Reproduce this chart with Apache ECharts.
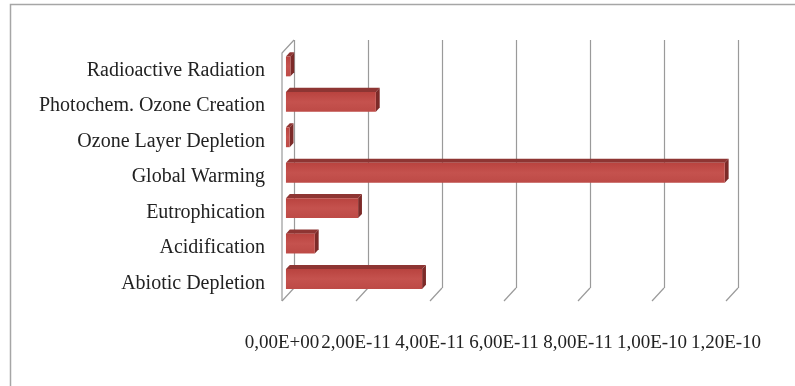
<!DOCTYPE html>
<html>
<head>
<meta charset="utf-8">
<script src="https://cdn.jsdelivr.net/npm/echarts@6/dist/echarts.min.js"></script>
<style>
  html, body { margin: 0; padding: 0; background: #fff; }
  #chart { width: 795px; height: 386px; }
</style>
</head>
<body>
<div id="chart"></div>
<script>
// Impact categories, bottom to top as they appear on the axis
const categories = [
  'Abiotic Depletion',
  'Acidification',
  'Eutrophication',
  'Global Warming',
  'Ozone Layer Depletion',
  'Photochem. Ozone Creation',
  'Radioactive Radiation'
];
const impactValues = [3.68e-11, 0.78e-11, 1.95e-11, 1.186e-10, 1.0e-12, 2.43e-11, 1.2e-12];

const xTickValues = [0, 2e-11, 4e-11, 6e-11, 8e-11, 1e-10, 1.2e-10];
const xTickLabels = ['0,00E+00', '2,00E-11', '4,00E-11', '6,00E-11', '8,00E-11', '1,00E-10', '1,20E-10'];

// pseudo-3D depth: shift from back wall to front edge of the floor
const DEPTH_X = -12, DEPTH_Y = 13;
const BAR_FRONT = 0.67, BAR_BACK = 0.35;
const GRID_GRAY = '#9a9a9a';
const FONT = '"Liberation Serif", "Times New Roman", serif';

const chart = echarts.init(document.getElementById('chart'), null, { renderer: 'canvas' });

function renderBar(params, api) {
  const v = api.value(0);
  const c = api.value(1);
  const p0 = api.coord([0, c]);
  const p1 = api.coord([v, c]);
  const h = api.size([0, 1])[1] * 0.56;
  const fx = BAR_FRONT * DEPTH_X, fy = BAR_FRONT * DEPTH_Y;
  const bx = BAR_BACK * DEPTH_X, by = BAR_BACK * DEPTH_Y;
  const x0 = p0[0] + fx, x1 = p1[0] + fx;
  const yT = p0[1] - h / 2 + fy, yB = p0[1] + h / 2 + fy;
  const dx = bx - fx, dy = by - fy;
  return {
    type: 'group',
    children: [
      {
        type: 'polygon',
        shape: { points: [[x0, yT], [x1, yT], [x1 + dx, yT + dy], [x0 + dx, yT + dy]] },
        style: { fill: '#8e3533' }
      },
      {
        type: 'polygon',
        shape: { points: [[x1, yT], [x1 + dx, yT + dy], [x1 + dx, yB + dy], [x1, yB]] },
        style: { fill: '#7c2a28' }
      },
      {
        type: 'rect',
        shape: { x: x0, y: yT, width: Math.max(x1 - x0, 0.5), height: yB - yT },
        style: {
          fill: new echarts.graphic.LinearGradient(0, 0, 0, 1, [
            { offset: 0, color: '#b9433f' },
            { offset: 0.5, color: '#c5524e' },
            { offset: 1, color: '#bd4a46' }
          ])
        }
      }
    ]
  };
}

function renderFloor(params, api) {
  const v = api.value(0);
  const cs = params.coordSys;
  const x = api.coord([v, categories[0]])[0];
  const yBot = cs.y + cs.height;
  const children = [{
    type: 'line',
    shape: { x1: x, y1: yBot, x2: x + DEPTH_X, y2: yBot + DEPTH_Y },
    style: { stroke: GRID_GRAY, lineWidth: 1.2 }
  }];
  if (v === 0) {
    // side wall at the value origin
    children.push({
      type: 'polyline',
      shape: { points: [[x, cs.y], [x + DEPTH_X, cs.y + DEPTH_Y], [x + DEPTH_X, yBot + DEPTH_Y]] },
      style: { stroke: GRID_GRAY, lineWidth: 1.2, fill: null }
    });
  }
  return { type: 'group', children: children };
}

const option = {
  animation: false,
  backgroundColor: '#fff',
  graphic: [{
    type: 'rect',
    shape: { x: 10.5, y: 4.5, width: 800, height: 400 },
    style: { fill: null, stroke: '#a6a6a6', lineWidth: 1.5 },
    silent: true
  }],
  grid: [
    // back wall
    { left: 294, right: 57, top: 40, bottom: 98 },
    // front edge of the floor
    { left: 282, right: 69, top: 53, bottom: 85 }
  ],
  xAxis: [
    {
      gridIndex: 0, type: 'value', min: 0, max: 1.2e-10, interval: 2e-11,
      axisLine: { show: false }, axisTick: { show: false }, axisLabel: { show: false },
      splitLine: { show: true, lineStyle: { color: GRID_GRAY, width: 1.2 } }
    },
    {
      gridIndex: 1, type: 'value', min: 0, max: 1.2e-10, interval: 2e-11,
      axisLine: { show: false }, axisTick: { show: false }, splitLine: { show: false },
      axisLabel: {
        show: true, margin: 33, color: '#222',
        fontFamily: FONT, fontSize: 19,
        formatter: function (val) {
          const i = xTickValues.findIndex(t => Math.abs(t - val) < 1e-15);
          return i >= 0 ? xTickLabels[i] : '';
        }
      }
    }
  ],
  yAxis: [
    {
      gridIndex: 0, type: 'category', data: categories,
      axisLine: { show: false }, axisTick: { show: false }, axisLabel: { show: false },
      splitLine: { show: false }
    },
    {
      gridIndex: 1, type: 'category', data: categories,
      axisLine: { show: false }, axisTick: { show: false }, splitLine: { show: false },
      axisLabel: {
        show: true, margin: 17, color: '#222', fontFamily: FONT, fontSize: 20,
        padding: [8, 0, 0, 0]
      }
    }
  ],
  series: [
    {
      type: 'custom',
      xAxisIndex: 0, yAxisIndex: 0,
      renderItem: renderFloor,
      data: xTickValues.map(v => [v]),
      encode: { x: 0 },
      silent: true,
      z: 1
    },
    {
      type: 'custom',
      xAxisIndex: 0, yAxisIndex: 0,
      renderItem: renderBar,
      data: impactValues.map((v, i) => [v, i]),
      encode: { x: 0, y: 1 },
      z: 3
    }
  ]
};

chart.setOption(option);
</script>
</body>
</html>
